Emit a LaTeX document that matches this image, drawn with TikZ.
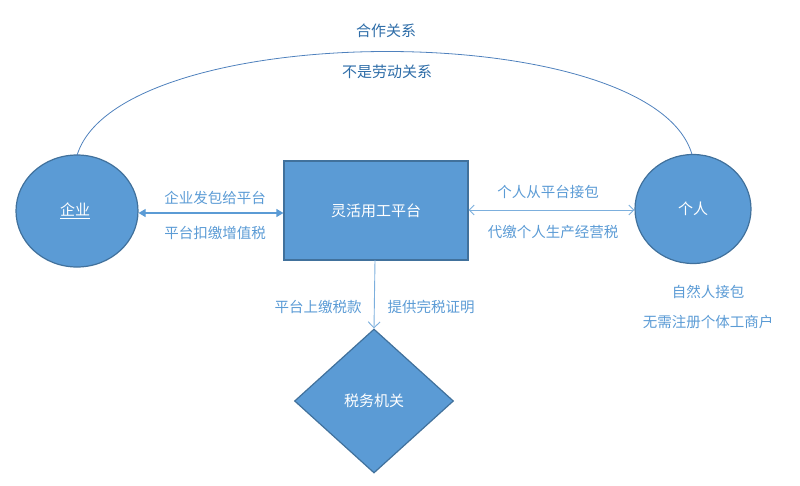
\documentclass[tikz,border=0pt]{standalone}
\usepackage{fontspec}
\setmainfont{Noto Sans CJK SC}
\usetikzlibrary{shapes.geometric,arrows.meta}
\definecolor{nodefill}{HTML}{5B9BD5}
\definecolor{nodeedge}{HTML}{41719C}
\definecolor{lbl}{HTML}{5B9BD5}
\definecolor{toplbl}{HTML}{2E6DA8}
\definecolor{arcc}{HTML}{4F81BD}
\tikzset{
  shapebox/.style={draw=nodeedge, line width=1.2pt, fill=nodefill, text=white, font=\fontsize{15}{18}\selectfont, inner sep=0pt},
  lab/.style={text=lbl, font=\fontsize{14.5}{17}\selectfont, inner sep=0pt},
  toplab/.style={text=toplbl, font=\fontsize{15}{18}\selectfont, inner sep=0pt},
  conn/.style={draw=lbl, line width=1.2pt},
  openconn/.style={draw=lbl!80, line width=0.9pt}
}
\begin{document}
\begin{tikzpicture}[x=1pt,y=-1pt]
\useasboundingbox (0,0) rectangle (800,485);
\node[shapebox, ellipse, minimum width=122pt, minimum height=112pt] (ent) at (77,211) {};
\node[text=white, font=\fontsize{15}{18}\selectfont, inner sep=0pt] (entl) at (75,211) {\underline{企业}};
\node[shapebox, ellipse, minimum width=116pt, minimum height=109pt] (ind) at (693,209) {个人};
\node[shapebox, rectangle, minimum width=184pt, minimum height=99pt] (plat) at (376,210.5) {灵活用工平台};
\node[shapebox, diamond, minimum width=159pt, minimum height=144pt] (tax) at (374,401) {税务机关};
\coordinate (arcL) at (77,155.5);
\coordinate (arcR) at (692,154.5);
\draw[draw=arcc, line width=0.8pt] (arcL) .. controls (118,18) and (652,16) .. (arcR);
\node[toplab] (coop) at (386,31) {合作关系};
\node[toplab] (notlab) at (387,72) {不是劳动关系};
\draw[conn, {Triangle[length=7pt,width=8pt]}-{Triangle[length=7pt,width=8pt]}] (ent.east |- 0,213) -- (plat.west |- 0,213);
\node[lab] (l1) at (215,198) {企业发包给平台};
\node[lab] (l2) at (215,233) {平台扣缴增值税};
\draw[openconn, {Straight Barb[length=5pt,width=10pt]}-{Straight Barb[length=5pt,width=10pt]}] (plat.east |- 0,210) -- (ind.west |- 0,210);
\node[lab] (r1) at (548,192) {个人从平台接包};
\node[lab] (r2) at (553,232) {代缴个人生产经营税};
\draw[openconn, -{Straight Barb[length=6pt,width=12pt]}] (375,260) -- (tax.north);
\node[lab] (d1) at (318,307) {平台上缴税款};
\node[lab] (d2) at (431,307) {提供完税证明};
\node[lab] (n1) at (708,292) {自然人接包};
\node[lab] (n2) at (708,322) {无需注册个体工商户};
\end{tikzpicture}
\end{document}
